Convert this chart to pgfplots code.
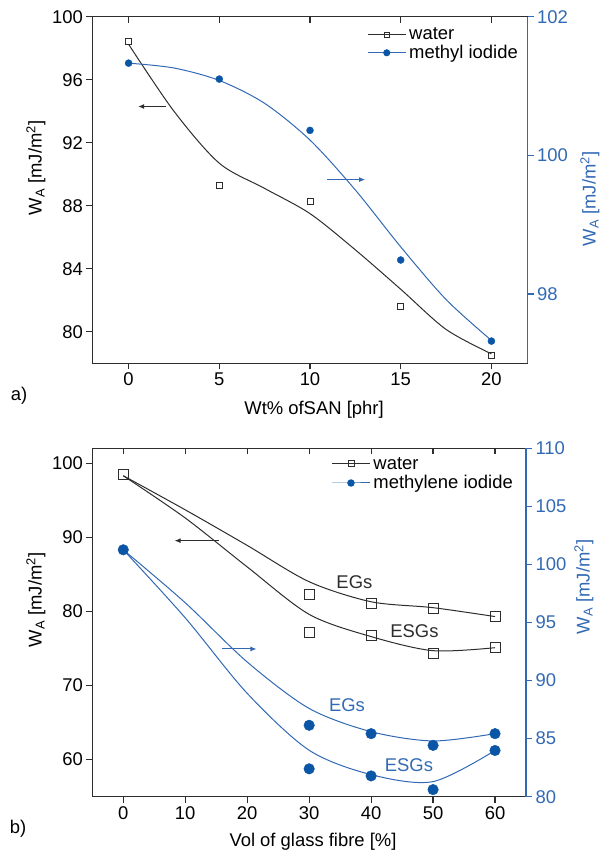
\documentclass[border=0pt]{standalone}
\usepackage{fontspec}
\setmainfont{Liberation Sans}
\usepackage{pgfplots}
\pgfplotsset{compat=1.18}
\usetikzlibrary{arrows.meta}
\definecolor{lb}{RGB}{50,105,180}
\definecolor{mb}{RGB}{10,85,165}
\definecolor{dk}{RGB}{45,45,45}
\newcommand{\fs}{\fontsize{18.5}{20}\selectfont}
\pgfplotsset{
  base/.style={scale only axis, anchor=south west,
    /pgf/number format/assume math mode=true,
    tick label style={font=\fs},
    major tick length=6bp,
    axis line style={line width=1.3bp, dk},
    every tick/.style={line width=1.2bp, dk},
    clip=false},
  legimg/.style={legend image code/.code={\draw[mark repeat=2,mark phase=2,##1] plot coordinates {(0bp,0bp) (19bp,0bp) (38bp,0bp)};}},
  wline/.style={dk, line width=1bp, smooth, tension=0.5, no marks, forget plot},
  bline/.style={lb, line width=1bp, smooth, tension=0.5, no marks, forget plot},
}
\begin{document}
\begin{tikzpicture}
\useasboundingbox (0,0) rectangle (605bp,852bp);
% ===== panel a =====
\begin{axis}[base, at={(92.3bp,488.7bp)}, width=435.4bp, height=346.6bp,
  xmin=-2, xmax=22, ymin=78, ymax=100, xtick={0,5,10,15,20}, xticklabels={},
  ytick=\empty, xtick pos=top, tick align=inside]
\end{axis}
\begin{axis}[base, at={(92.3bp,488.7bp)}, width=435.4bp, height=346.6bp,
  xmin=-2, xmax=22, ymin=78, ymax=100, xtick={0,5,10,15,20}, ytick={80,84,...,100},
  axis x line*=bottom, axis y line*=left, tick align=outside]
\addplot[wline] coordinates {(0,98.25)(2.5,94.0)(5,90.7)(7.5,89.1)(10,87.5)(12.5,85.2)(15,82.7)(17.5,80.15)(20,78.6)};
\addplot[only marks, mark=square, mark size=3bp, mark options={fill=white, draw=dk, line width=0.8bp}, forget plot]
  coordinates {(0,98.4)(5,89.3)(10,88.3)(15,81.6)(20,78.5)};
\draw[dk, line width=1bp, -{Latex[length=6bp,width=5bp]}] (axis cs:2.06,94.3) -- (axis cs:0.53,94.3);
\end{axis}
\begin{axis}[base, legimg, at={(92.3bp,488.7bp)}, width=435.4bp, height=346.6bp,
  xmin=-2, xmax=22, ymin=97, ymax=102, ytick={98,100,102},
  axis x line=none, axis y line*=right, tick align=outside,
  y axis line style={lb, line width=1.3bp}, ytick style={lb}, yticklabel style={text=lb},
  legend style={draw=none, fill=none, at={(0.631,0.971)}, anchor=north west, font=\fs,
    inner sep=0pt, row sep=2bp, column sep=2bp, nodes={inner sep=1bp}}, legend cell align=left]
\addlegendimage{dk, line width=1bp, mark=square, mark size=2.6bp, mark options={fill=white, draw=dk, line width=0.8bp}}
\addlegendentry{water}
\addlegendimage{lb, line width=1bp, mark=*, mark size=3bp, mark options={fill=mb, draw=mb}}
\addlegendentry{methyl iodide}
\addplot[bline] coordinates {(0,101.33)(2.5,101.26)(5,101.08)(7.5,100.75)(10,100.22)(12.5,99.5)(15,98.68)(17.5,97.92)(20,97.33)};
\addplot[only marks, mark=*, mark size=3.5bp, mark options={fill=mb, draw=mb}, forget plot]
  coordinates {(0,101.33)(5,101.1)(10,100.36)(15,98.49)(20,97.32)};
\draw[lb, line width=1bp, -{Latex[length=6bp,width=5bp]}] (axis cs:10.96,99.65) -- (axis cs:13.04,99.65);
\end{axis}
\node[font=\fs, rotate=90] at (36bp,684bp) {W\textsubscript{A} [mJ/m\textsuperscript{2}]};
\node[font=\fs, rotate=90, text=lb] at (590bp,653bp) {W\textsubscript{A} [mJ/m\textsuperscript{2}]};
\node[font=\fs] at (314bp,442bp) {Wt\% ofSAN [phr]};
\node[font=\fs] at (19bp,456bp) {a)};
% ===== panel b =====
\begin{axis}[base, at={(92.3bp,55.3bp)}, width=433.7bp, height=348.4bp,
  xmin=-5, xmax=65, ymin=55, ymax=102, xtick={0,10,...,60}, xticklabels={},
  ytick=\empty, xtick pos=top, tick align=inside]
\end{axis}
\begin{axis}[base, at={(92.3bp,55.3bp)}, width=433.7bp, height=348.4bp,
  xmin=-5, xmax=65, ymin=55, ymax=102, xtick={0,10,...,60}, ytick={60,70,...,100},
  axis x line*=bottom, axis y line*=left, tick align=outside]
\addplot[wline] coordinates {(0,98.3)(10,93.7)(20,88.9)(30,84.0)(40,81.3)(50,80.5)(60,79.3)};
\addplot[wline] coordinates {(0,98.3)(10,92.6)(20,86.0)(30,79.6)(40,76.6)(50,74.7)(60,75.1)};
\addplot[only marks, mark=square, mark size=5bp, mark options={fill=white, draw=dk, line width=0.9bp}, forget plot]
  coordinates {(0,98.47)(30,82.33)(40,81.06)(50,80.43)(60,79.26)};
\addplot[only marks, mark=square, mark size=5bp, mark options={fill=white, draw=dk, line width=0.9bp}, forget plot]
  coordinates {(30,77.14)(40,76.78)(50,74.3)(60,75.07)};
\draw[dk, line width=1bp, -{Latex[length=6bp,width=5bp]}] (axis cs:15.45,89.54) -- (axis cs:8.29,89.54);
\node[font=\fs, text=dk] at (axis cs:37.3,83.9) {EGs};
\node[font=\fs, text=dk] at (axis cs:47.0,77.3) {ESGs};
\node[font=\fs, text=lb] at (axis cs:36.1,67.3) {EGs};
\node[font=\fs, text=lb] at (axis cs:46.1,59.2) {ESGs};
\end{axis}
\begin{axis}[base, legimg, at={(92.3bp,55.3bp)}, width=433.7bp, height=348.4bp,
  xmin=-5, xmax=65, ymin=80, ymax=110, ytick={80,85,...,110},
  axis x line=none, axis y line*=right, tick align=outside,
  y axis line style={lb, line width=1.3bp}, ytick style={lb}, yticklabel style={text=lb},
  legend style={draw=none, fill=none, at={(0.551,0.978)}, anchor=north west, font=\fs,
    inner sep=0pt, row sep=3bp, column sep=2bp, nodes={inner sep=1bp}}, legend cell align=left]
\addlegendimage{dk, line width=1bp, mark=square, mark size=3bp, mark options={fill=white, draw=dk, line width=0.8bp}}
\addlegendentry{water}
\addlegendimage{lb, line width=1bp, mark=*, mark size=3.2bp, mark options={fill=mb, draw=mb}}
\addlegendentry{methylene iodide}
\addplot[bline] coordinates {(0,101.26)(10,96.7)(20,91.6)(30,87.6)(40,85.6)(50,84.8)(60,85.43)};
\addplot[bline] coordinates {(0,101.26)(10,95.4)(20,88.9)(30,84.0)(40,81.9)(50,81.3)(60,83.98)};
\addplot[only marks, mark=*, mark size=5.3bp, mark options={fill=mb, draw=mb}, forget plot]
  coordinates {(0,101.26)(30,86.15)(40,85.43)(50,84.42)(60,85.43)};
\addplot[only marks, mark=*, mark size=5.3bp, mark options={fill=mb, draw=mb}, forget plot]
  coordinates {(30,82.4)(40,81.79)(50,80.61)(60,83.98)};
\draw[lb, line width=1bp, -{Latex[length=6bp,width=5bp]}] (axis cs:16.0,92.72) -- (axis cs:21.5,92.72);
\end{axis}
\node[font=\fs, rotate=90] at (36bp,252bp) {W\textsubscript{A} [mJ/m\textsuperscript{2}]};
\node[font=\fs, rotate=90, text=lb] at (584bp,265bp) {W\textsubscript{A} [mJ/m\textsuperscript{2}]};
\node[font=\fs] at (313bp,10bp) {Vol of glass fibre [\%]};
\node[font=\fs] at (18bp,23bp) {b)};
\end{tikzpicture}
\end{document}
